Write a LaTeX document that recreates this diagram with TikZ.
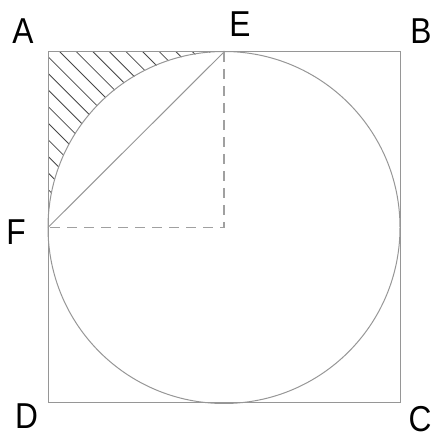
\documentclass[tikz,border=0pt]{standalone}
\usepackage{fontspec}
\setmainfont{Liberation Sans}
\definecolor{sqLine}{RGB}{150,150,150}
\definecolor{hatchInk}{RGB}{70,70,70}
\definecolor{dashGray}{RGB}{160,160,160}
\usetikzlibrary{positioning}

\begin{document}
\begin{tikzpicture}[
  x=1pt,y=1pt,
  lbl/.style={inner sep=0pt,font=\fontsize{36}{36}\selectfont,text=black,xscale=0.88,transform shape},
  edge/.style={sqLine,line width=1pt},
  hatch/.style={hatchInk,line width=0.8pt},
  radius line/.style={dashGray,line width=1.4pt,dash pattern=on 10pt off 7pt}]

  \useasboundingbox (0,0) rectangle (434,438);

  % corners, tangent points and centre
  \coordinate (a) at (48,386);
  \coordinate (b) at (400,386);
  \coordinate (c) at (400,35);
  \coordinate (d) at (48,35);
  \coordinate (o) at (224,210.5);
  \coordinate (e) at (224,386);
  \coordinate (f) at (48,210.5);

  % hatched corner between A and the arc
  \begin{scope}
    \clip (a) -- (e) arc[start angle=90,end angle=180,radius=176] -- cycle;
    \foreach \k in {-12,...,10}{
      \pgfmathsetmacro{\cc}{446+16.6*\k}
      \draw[hatch] (\cc-400,400) -- (\cc,0);
    }
  \end{scope}

  \draw[edge] (a) -- (b) -- (c) -- (d) -- cycle;
  \draw[edge] (o) circle[radius=176];
  \draw[edge] (e) -- (f);
  \draw[radius line] (e) -- (o) -- (f);

  \node[lbl] (lA) at (23,407) {A};
  \node[lbl] (lB) at (421,407) {B};
  \node[lbl] (lE) at (240,413.5) {E};
  \node[lbl] (lF) at (16,206) {F};
  \node[lbl] (lD) at (26.5,21.5) {D};
  \node[lbl] (lC) at (420,19) {C};
\end{tikzpicture}
\end{document}
